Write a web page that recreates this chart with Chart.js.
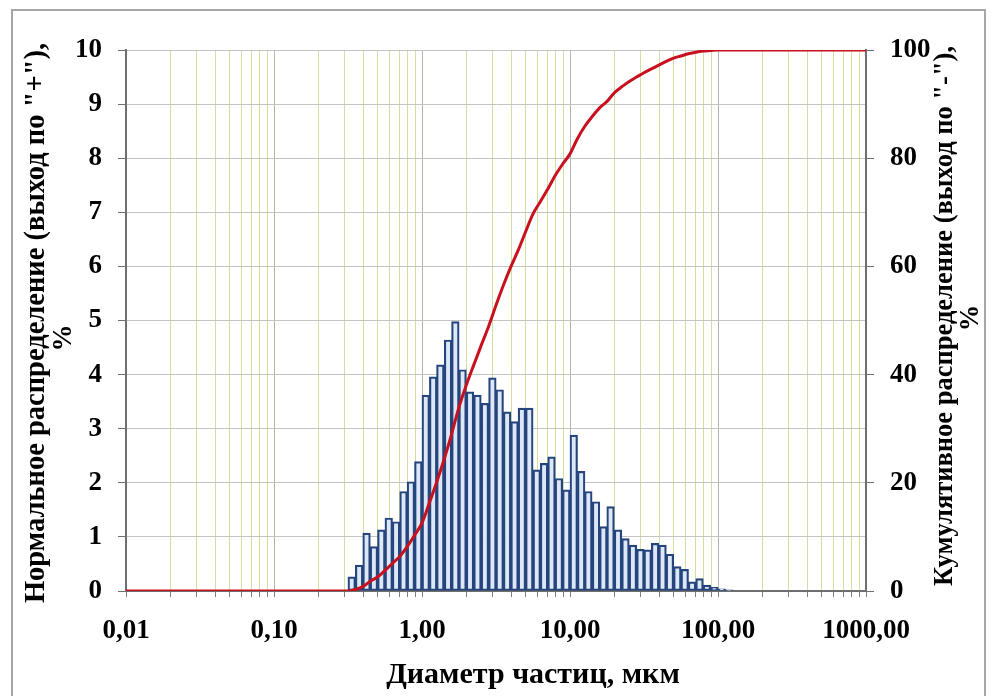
<!DOCTYPE html>
<html>
<head>
<meta charset="utf-8">
<script src="https://cdn.jsdelivr.net/npm/chart.js@4.4.1/dist/chart.umd.min.js"></script>
<style>
  html, body { margin: 0; padding: 0; background: #ffffff; }
  #wrap { position: relative; width: 992px; height: 696px; overflow: hidden; }
  #chart { position: absolute; left: 0; top: 0; }
  #frame { position: absolute; left: 11px; top: 9px; width: 975px; height: 720px;
           border: 2px solid #a6a6a6; box-sizing: border-box; pointer-events: none; }
</style>
</head>
<body>
<div id="wrap">
  <canvas id="chart" width="992" height="696"></canvas>
  <div id="frame"></div>
</div>
<script>
// Particle size classes (bin centres, µm)
const diameters = [
  0.335, 0.376, 0.422, 0.473, 0.531, 0.596, 0.668, 0.750, 0.841, 0.944,
  1.06, 1.19, 1.33, 1.50, 1.68, 1.88, 2.11, 2.37, 2.66, 2.99,
  3.35, 3.76, 4.22, 4.73, 5.31, 5.96, 6.68, 7.50, 8.41, 9.44,
  10.6, 11.9, 13.3, 15.0, 16.8, 18.8, 21.1, 23.7, 26.6, 29.9,
  33.5, 37.6, 42.2, 47.3, 53.1, 59.6, 66.8, 75.0, 84.1, 94.4,
  106, 119
];

// Normal distribution, % per class (left axis)
const normalPct = [
  0.26, 0.48, 1.07, 0.82, 1.13, 1.35, 1.28, 1.84, 2.02, 2.39,
  3.62, 3.96, 4.18, 4.64, 4.98, 4.09, 3.68, 3.62, 3.47, 3.94,
  3.72, 3.31, 3.13, 3.38, 3.38, 2.24, 2.36, 2.48, 2.08, 1.87,
  2.88, 2.21, 1.84, 1.65, 1.19, 1.56, 1.13, 0.97, 0.85, 0.77,
  0.76, 0.88, 0.85, 0.68, 0.45, 0.40, 0.17, 0.23, 0.11, 0.07,
  0.04, 0.02
];

// Cumulative distribution (undersize), diameters in µm
const cumDiameters = [
  0.01, 0.1, 0.2, 0.316,
  0.355, 0.398, 0.447, 0.501, 0.562, 0.631, 0.708, 0.794, 0.891, 1.00,
  1.122, 1.259, 1.413, 1.585, 1.778, 1.995, 2.239, 2.512, 2.818, 3.162,
  3.548, 3.981, 4.467, 5.012, 5.623, 6.310, 7.079, 7.943, 8.913, 10.00,
  11.22, 12.59, 14.13, 15.85, 17.78, 19.95, 22.39, 25.12, 28.18, 31.62,
  35.48, 39.81, 44.67, 50.12, 56.23, 63.10, 70.79, 79.43, 89.13, 100.0,
  200, 500, 1000
];
// Cumulative %, right axis
const cumPct = [
  0, 0, 0, 0,
  0.3, 0.8, 1.8, 2.6, 3.8, 5.1, 6.4, 8.2, 10.3, 12.6,
  16.3, 20.2, 24.4, 29.0, 34.0, 38.1, 41.8, 45.4, 48.9, 52.8,
  56.5, 59.9, 63.0, 66.4, 69.7, 72.0, 74.3, 76.8, 78.9, 80.8,
  83.6, 85.9, 87.7, 89.3, 90.5, 92.1, 93.2, 94.2, 95.0, 95.8,
  96.5, 97.2, 97.9, 98.5, 98.9, 99.3, 99.6, 99.8, 99.9, 100,
  100, 100, 100
];

// Axis ticks
const xDecades = [0.01, 0.1, 1, 10, 100, 1000];
const xTickLabels = ['0,01', '0,10', '1,00', '10,00', '100,00', '1000,00'];
const xMinorSteps = [2, 3, 4, 5, 6, 7, 8, 9];

const xTitle = 'Диаметр частиц, мкм';
const leftTitle = ['Нормальное распределение (выход по "+"),', '%'];
const rightTitle = ['Кумулятивное распределение (выход по "-"),', '%'];

const serif = '"Liberation Serif", "Times New Roman", serif';
const tickFont = { family: serif, size: 27, weight: 'bold' };

// Plot area edges
const AREA = { left: 126, right: 866, top: 50, bottom: 591 };

const barPoints = diameters.map((d, i) => ({ x: d, y: normalPct[i] }));
const cumPoints = cumDiameters.map((d, i) => ({ x: d, y: cumPct[i] }));

function drawRotated(ctx, text, x, y) {
  ctx.save();
  ctx.translate(x, y);
  ctx.rotate(-Math.PI / 2);
  ctx.fillText(text, 0, 0);
  ctx.restore();
}

const axisTitles = {
  id: 'axisTitles',
  afterDraw(chart) {
    const ctx = chart.ctx;
    ctx.save();
    ctx.fillStyle = '#000000';
    ctx.textAlign = 'center';
    ctx.textBaseline = 'middle';
    ctx.font = 'bold 30px ' + serif;
    ctx.fillText(xTitle, 533, 675);

    // both vertical titles read bottom to top
    ctx.font = 'bold 28.5px ' + serif;
    drawRotated(ctx, leftTitle[0], 37, 323);
    ctx.font = 'bold 27px ' + serif;
    drawRotated(ctx, leftTitle[1], 64, 338);
    ctx.font = 'bold 26.5px ' + serif;
    drawRotated(ctx, rightTitle[0], 945, 316);
    drawRotated(ctx, rightTitle[1], 971, 318);
    ctx.restore();
  }
};

new Chart(document.getElementById('chart'), {
  type: 'bar',
  data: {
    datasets: [
      {
        type: 'line',
        label: 'cumulative',
        data: cumPoints,
        xAxisID: 'x',
        yAxisID: 'y2',
        borderColor: '#c8101e',
        borderWidth: 3,
        pointRadius: 0,
        cubicInterpolationMode: 'monotone',
        order: 0
      },
      {
        type: 'bar',
        label: 'normal',
        data: barPoints,
        xAxisID: 'x',
        yAxisID: 'y',
        backgroundColor: '#dce8f7',
        borderColor: '#26457c',
        borderWidth: 2.2,
        borderSkipped: false,
        barThickness: 7.6,
        order: 1
      }
    ]
  },
  options: {
    responsive: false,
    animation: false,
    events: [],
    layout: { padding: { top: AREA.top, left: 0, right: 0, bottom: 0 } },
    plugins: { legend: { display: false }, tooltip: { enabled: false }, title: { display: false } },
    scales: {
      x: {
        type: 'logarithmic',
        position: 'bottom',
        min: 0.01,
        max: 1000,
        offset: false,
        afterBuildTicks(scale) {
          const ticks = [];
          xDecades.forEach((d, i) => {
            ticks.push({ value: d, major: true });
            if (i < xDecades.length - 1) {
              xMinorSteps.forEach(s => ticks.push({ value: +(d * s).toPrecision(3), major: false }));
            }
          });
          scale.ticks = ticks;
        },
        ticks: {
          autoSkip: false,
          maxRotation: 0,
          minRotation: 0,
          color: '#000000',
          font: tickFont,
          padding: 18,
          callback(value) {
            const i = xDecades.findIndex(d => Math.abs(d - value) < d * 1e-6);
            return i >= 0 ? xTickLabels[i] : '';
          }
        },
        grid: {
          offset: false,
          drawOnChartArea: true,
          color: ctx => (ctx.tick && ctx.tick.major) ? '#b2b6a6' : '#d1dfa2',
          lineWidth: 1,
          tickLength: 6,
          tickColor: '#7f7f7f'
        },
        border: { display: true, color: '#6f6f6f', width: 2 },
        afterFit(scale) { scale.height = 696 - AREA.bottom; }
      },
      y: {
        type: 'linear',
        position: 'left',
        min: 0,
        max: 10,
        ticks: { stepSize: 1, color: '#000000', font: tickFont, padding: 16 },
        grid: { color: '#c4c4c4', lineWidth: 1, tickLength: 8, tickColor: '#6f6f6f' },
        border: { display: true, color: '#6f6f6f', width: 2 },
        afterFit(scale) { scale.width = AREA.left; }
      },
      y2: {
        type: 'linear',
        position: 'right',
        min: 0,
        max: 100,
        ticks: { stepSize: 20, color: '#000000', font: tickFont, padding: 16 },
        grid: { drawOnChartArea: false, tickLength: 8, tickColor: '#6f6f6f' },
        border: { display: true, color: '#6f6f6f', width: 2 },
        afterFit(scale) { scale.width = 992 - AREA.right; }
      }
    }
  },
  plugins: [axisTitles]
});
</script>
</body>
</html>
